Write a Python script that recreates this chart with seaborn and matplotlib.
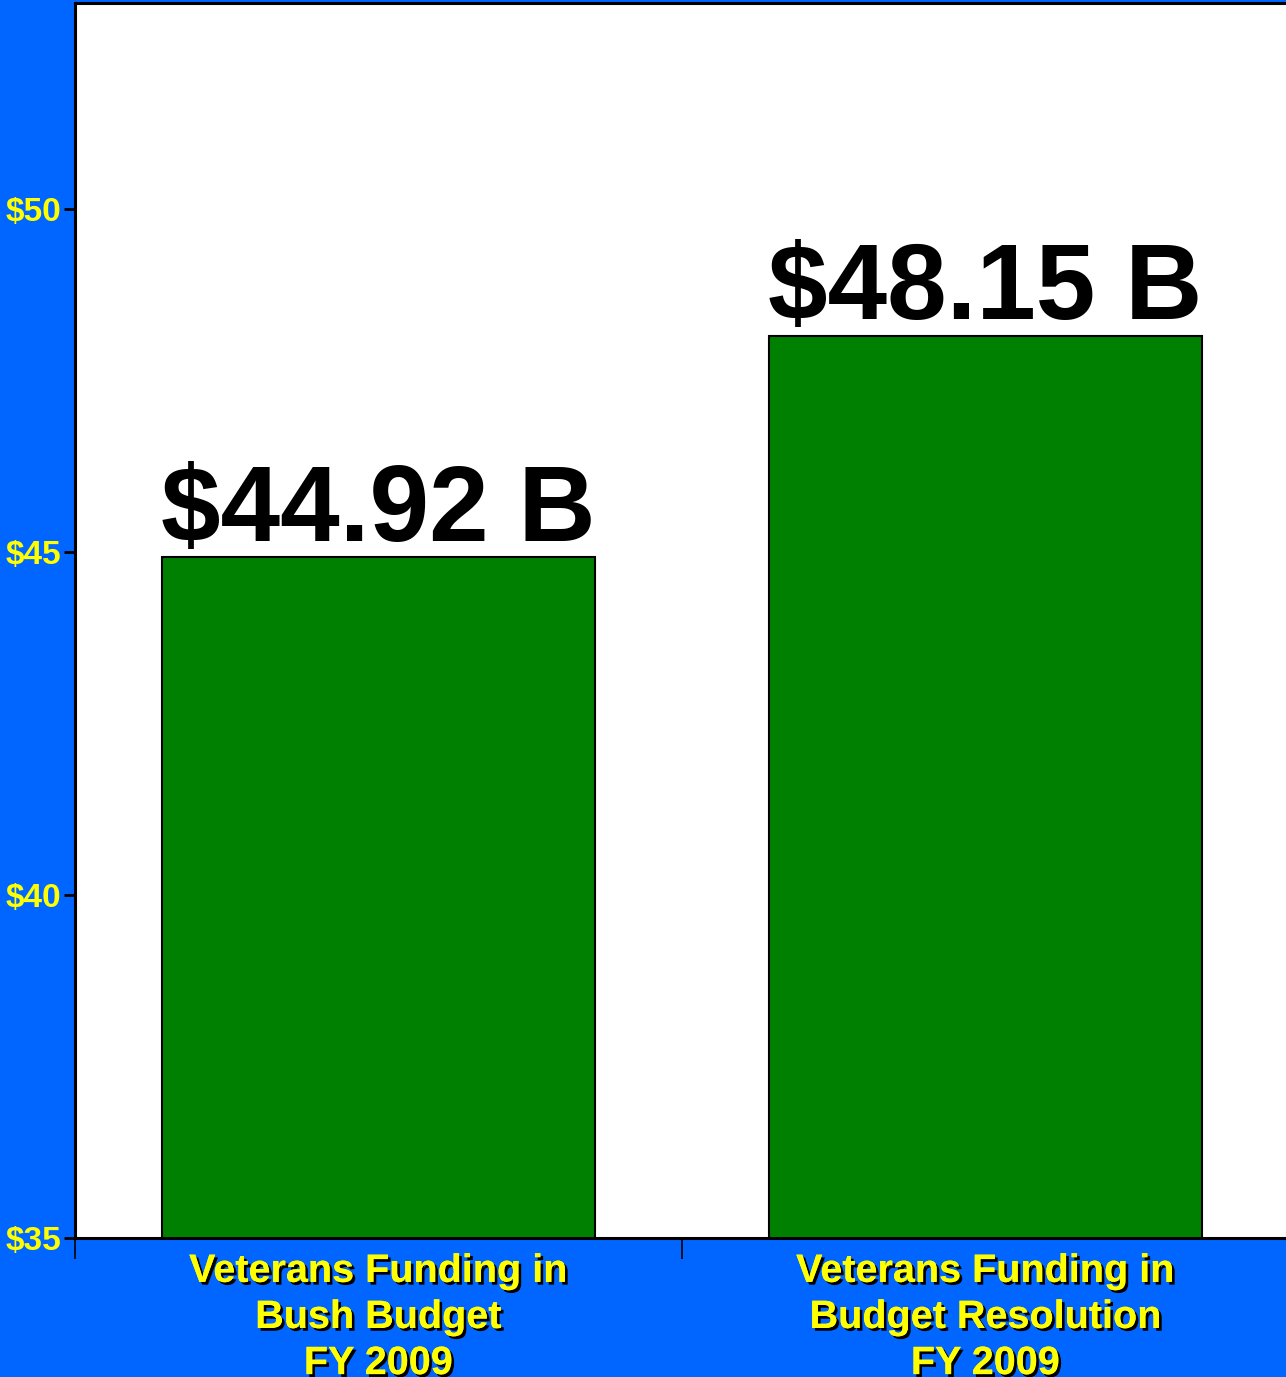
import matplotlib
matplotlib.use("Agg")
import matplotlib.pyplot as plt
import matplotlib.patheffects as pe
import seaborn as sns

categories = ["Veterans Funding in\nBush Budget\nFY 2009",
              "Veterans Funding in\nBudget Resolution\nFY 2009"]
values = [44.92, 48.15]
value_labels = ["$44.92 B", "$48.15 B"]
yticks = [35, 40, 45, 50]
ytick_labels = ["$35", "$40", "$45", "$50"]

sns.set_style("white")
plt.rcParams['font.family'] = ['Liberation Sans', 'DejaVu Sans']

blue = "#0066FF"
fig = plt.figure(figsize=(12.86, 13.77), dpi=100, facecolor=blue)
ax = fig.add_axes([75/1286, 139/1377, 1214/1286, 1235/1377])
ax.set_facecolor("white")

sns.barplot(x=categories, y=values, color="#008000", saturation=1,
            width=0.713, edgecolor="black", linewidth=1.5, ax=ax)

ax.set_ylim(35, 53)
ax.set_xlim(-0.5, 1.5)

for i, (v, lab) in enumerate(zip(values, value_labels)):
    ax.annotate(lab, xy=(i, v), xytext=(0, 12), textcoords="offset points",
                ha="center", va="baseline", fontsize=77, fontweight="bold",
                color="black")

# y ticks
ax.set_yticks(yticks)
ax.set_yticklabels(ytick_labels, fontweight="bold", fontsize=24, color="yellow")
ax.tick_params(axis="y", direction="out", length=8, width=2, color="black", pad=2, left=True)

# x ticks at category boundaries, labels at centres
ax.set_xticks([-0.5, 0.5])
ax.set_xticklabels(["", ""])
ax.tick_params(axis="x", which="major", direction="out", length=15, width=1.2,
               color="black", bottom=True)
ax.set_xticks([0, 1], minor=True)
ax.set_xticklabels(categories, minor=True, fontsize=28.5, fontweight="bold",
                   color="yellow", linespacing=1.27)
ax.tick_params(axis="x", which="minor", length=0, pad=10)
shadow = [pe.withSimplePatchShadow(offset=(2, -2), shadow_rgbFace="black", alpha=1),
          pe.Normal()]
for t in ax.get_xticklabels(minor=True):
    t.set_path_effects(shadow)

ax.set_xlabel("")
ax.set_ylabel("")
for side in ["top", "left", "bottom"]:
    ax.spines[side].set_visible(True)
    ax.spines[side].set_color("black")
    ax.spines[side].set_linewidth(2.2)
ax.spines["right"].set_visible(False)

fig.savefig("out.png", dpi=100, facecolor=blue)
